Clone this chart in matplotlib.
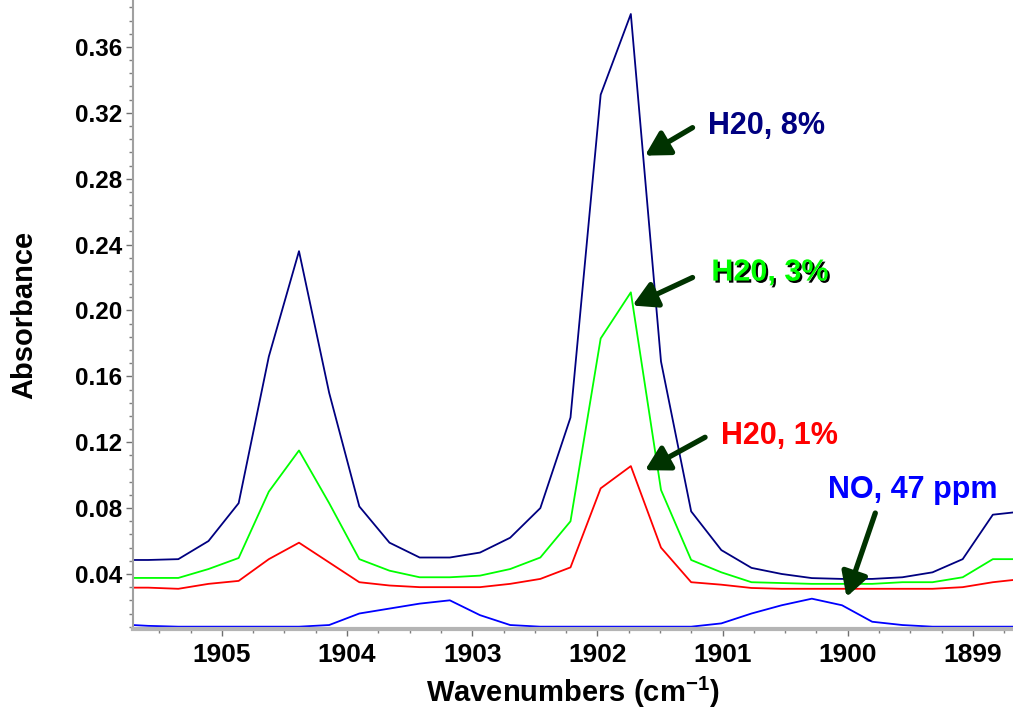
import matplotlib.pyplot as plt
import numpy as np
from matplotlib import font_manager, patheffects
from matplotlib.ticker import MultipleLocator, FormatStrFormatter

# absorbance spectra around the NO band, 0.241 cm-1 point spacing
wavenumber = [1905.830, 1905.589, 1905.348, 1905.107, 1904.866, 1904.625, 1904.384,
              1904.143, 1903.902, 1903.661, 1903.420, 1903.179, 1902.938, 1902.697,
              1902.456, 1902.215, 1901.974, 1901.733, 1901.492, 1901.251, 1901.010,
              1900.769, 1900.528, 1900.287, 1900.046, 1899.805, 1899.564, 1899.323,
              1899.082, 1898.841, 1898.600]

h2o_8 = [0.0485, 0.0485, 0.049, 0.060, 0.083, 0.172, 0.236, 0.150, 0.081, 0.059, 0.050,
         0.050, 0.053, 0.062, 0.080, 0.135, 0.331, 0.380, 0.169, 0.078, 0.0545, 0.0437,
         0.040, 0.0375, 0.037, 0.037, 0.038, 0.041, 0.049, 0.076, 0.078]

h2o_3 = [0.0376, 0.0376, 0.0376, 0.043, 0.0497, 0.090, 0.115, 0.083, 0.049, 0.042, 0.038,
         0.038, 0.039, 0.043, 0.050, 0.072, 0.183, 0.211, 0.091, 0.0485, 0.041, 0.035,
         0.0345, 0.034, 0.034, 0.034, 0.035, 0.035, 0.038, 0.049, 0.049]

h2o_1 = [0.0317, 0.0317, 0.031, 0.034, 0.0358, 0.049, 0.059, 0.047, 0.035, 0.033, 0.032,
         0.032, 0.032, 0.034, 0.037, 0.044, 0.092, 0.1055, 0.056, 0.035, 0.0335, 0.0315,
         0.031, 0.031, 0.031, 0.031, 0.031, 0.031, 0.032, 0.035, 0.037]

no_47 = [0.0095, 0.0085, 0.008, 0.008, 0.008, 0.008, 0.008, 0.009, 0.016, 0.019, 0.022,
         0.024, 0.015, 0.009, 0.008, 0.008, 0.008, 0.008, 0.008, 0.008, 0.010, 0.016,
         0.021, 0.025, 0.021, 0.011, 0.009, 0.008, 0.008, 0.008, 0.008]

labels = ['H20, 8%', 'H20, 3%', 'H20, 1%', 'NO, 47 ppm']
colors = ['#000080', '#00ff00', '#ff0000', '#0000ff']

names = {f.name for f in font_manager.fontManager.ttflist}
narrow = 'Liberation Sans'
for cand in ['Liberation Sans Narrow', 'Arial Narrow', 'DejaVu Sans Condensed']:
    if cand in names:
        narrow = cand
        break
plt.rcParams['font.family'] = ['Liberation Sans', 'DejaVu Sans']

fig = plt.figure(figsize=(10.13, 7.15), dpi=100, facecolor='white')
ax = fig.add_axes([0.1313, 0.1203, 0.8687, 0.8797])

for ys, c in zip([h2o_8, h2o_3, h2o_1, no_47], colors):
    ax.plot(wavenumber, ys, color=c, lw=1.3)

ax.set_xlim(1905.71, 1898.68)
ax.set_ylim(0.0066, 0.3885)

ax.xaxis.set_major_locator(MultipleLocator(1))
ax.xaxis.set_minor_locator(MultipleLocator(0.25))
ax.yaxis.set_major_locator(MultipleLocator(0.04))
ax.yaxis.set_minor_locator(MultipleLocator(0.008))
ax.yaxis.set_major_formatter(FormatStrFormatter('%.2f'))

for s in ['top', 'right']:
    ax.spines[s].set_visible(False)
ax.spines['bottom'].set_color('#b4b4b4')
ax.spines['bottom'].set_linewidth(3)
ax.spines['left'].set_color('#a0a0a0')
ax.spines['left'].set_linewidth(1.5)

ax.tick_params(axis='both', which='major', color='#707070', length=5, width=1)
ax.tick_params(axis='both', which='minor', color='#808080', length=3, width=1)
ax.tick_params(axis='y', labelsize=17.5, pad=3)
ax.tick_params(axis='x', labelsize=19, pad=5)
for t in ax.get_yticklabels():
    t.set_fontweight('bold')
for t in ax.get_xticklabels():
    t.set_fontweight('bold')
    t.set_family(narrow)

ax.set_ylabel('Absorbance', fontsize=21, fontweight='bold', labelpad=26)
ax.set_xlabel('Wavenumbers (cm$^{\\mathregular{ -1}}$)', fontsize=21,
              fontweight='bold', family=narrow, labelpad=6)

# labels with arrows pointing at each trace
arrow = dict(arrowstyle='-|>,head_length=0.8,head_width=0.45', color='#003300',
             lw=3.8, mutation_scale=18, shrinkA=0, shrinkB=0)
text_pos = [(1901.12, 0.312), (1901.09, 0.223), (1901.01, 0.124), (1900.16, 0.091)]
tails = [(1901.24, 0.311), (1901.24, 0.220), (1901.14, 0.123), (1899.78, 0.077)]
heads = [(1901.62, 0.294), (1901.72, 0.203), (1901.62, 0.103), (1900.01, 0.026)]

for lab, c, tp, tail, head in zip(labels, colors, text_pos, tails, heads):
    ax.annotate('', xy=head, xytext=tail, arrowprops=arrow)
    t = ax.text(tp[0], tp[1], lab, color=c, fontsize=22, fontweight='bold',
                ha='left', va='center')
    if c == '#00ff00':
        t.set_path_effects([patheffects.withSimplePatchShadow(offset=(1.5, -1.5),
                                                              shadow_rgbFace='black',
                                                              alpha=1.0)])

fig.savefig('out.png', dpi=100, facecolor='white')
